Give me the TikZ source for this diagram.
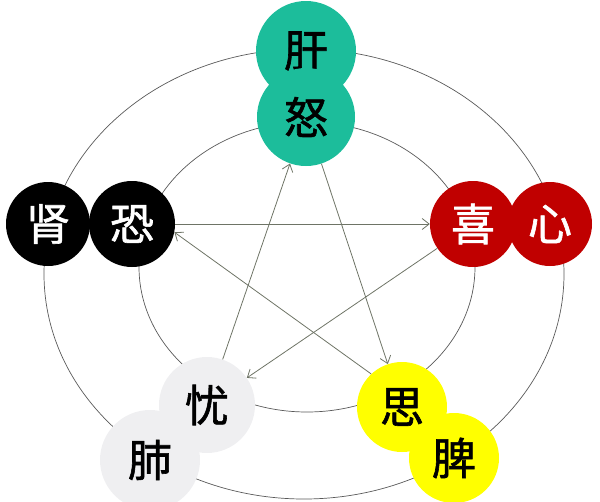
\documentclass[tikz,border=0pt]{standalone}
\usepackage{fontspec}
\newfontfamily\cjk[FakeBold=1.4]{Noto Sans CJK SC}
\usetikzlibrary{arrows.meta}
\definecolor{woodgreen}{HTML}{1CBD9B}
\definecolor{firered}{HTML}{C00000}
\definecolor{earthyellow}{HTML}{FFFF00}
\definecolor{metalgray}{HTML}{EFEFF1}
\definecolor{arrowgray}{HTML}{6E7466}

\begin{document}
\begin{tikzpicture}[x=1pt,y=-1pt]
            \tikzset{ring/.style = {draw=black!65, line width=0.7pt}}
            \tikzset{disc/.style = {shape=circle, inner sep=0pt, minimum size=#1, font=\cjk\fontsize{44}{44}\selectfont}}
            \tikzset{edge/.style = {draw=arrowgray, line width=0.8pt, -{Straight Barb[length=7pt,width=11pt]}}}
            \useasboundingbox (0,0) rectangle (600,501);
            % rings
            \draw[ring] (304,274) ellipse [x radius=260, y radius=225];
            \draw[ring] (307,267) ellipse [x radius=168, y radius=145];
            % vertices
            \node[disc=100pt, fill=woodgreen] (gan) at (306,51) {肝};
            \node[disc=98pt, fill=woodgreen] (nu) at (306,117) {怒};
            \node[disc=84pt, fill=black, text=white] (shen) at (48,224) {肾};
            \node[disc=86pt, fill=black, text=white] (kong) at (132,224) {恐};
            \node[disc=84pt, fill=firered, text=white] (xin) at (550,224) {心};
            \node[disc=86pt, fill=firered, text=white] (xi) at (473,224) {喜};
            \node[disc=100pt, fill=metalgray] (fei) at (150,460) {肺};
            \node[disc=96pt, fill=metalgray] (you) at (207,405) {忧};
            \node[disc=90pt, fill=earthyellow] (pi) at (454,458) {脾};
            \node[disc=90pt, fill=earthyellow] (si) at (402,407) {思};
            % edges
            \draw[edge] (kong) to (xi);
            \draw[edge] (xi) to (you);
            \draw[edge] (you) to (nu);
            \draw[edge] (nu) to (si);
            \draw[edge] (si.133) to (kong.-11);
        \end{tikzpicture}
\end{document}
